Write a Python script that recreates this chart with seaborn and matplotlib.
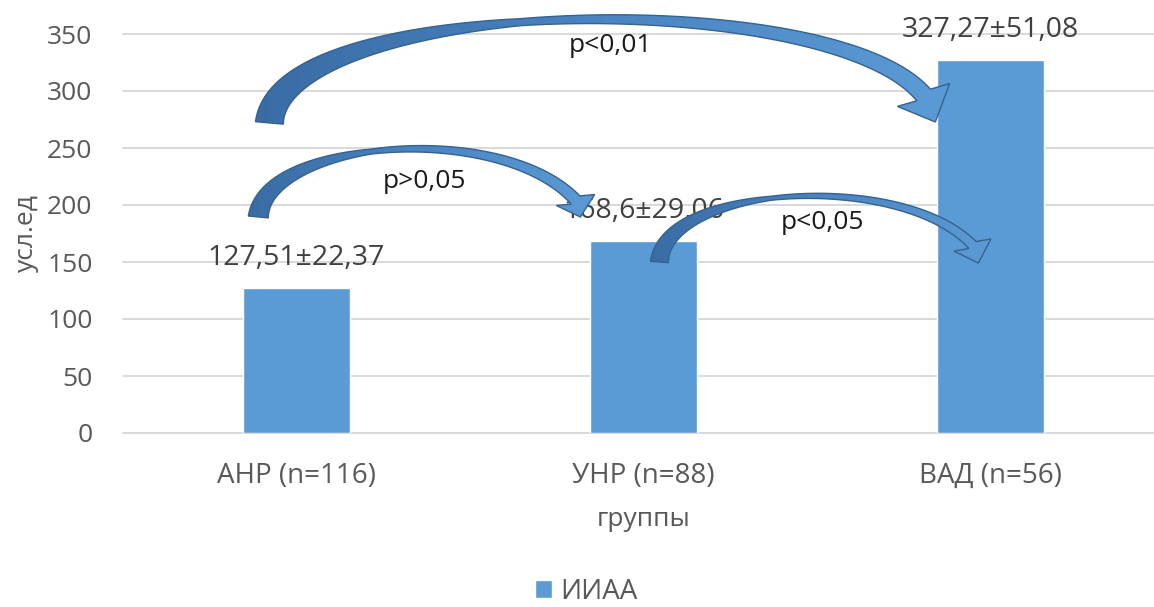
import numpy as np
import matplotlib
matplotlib.use("Agg")
import matplotlib.pyplot as plt
import seaborn as sns
from matplotlib.patches import Polygon
from matplotlib.colors import LinearSegmentedColormap

# ---- data -------------------------------------------------------------
groups = ["АНР (n=116)", "УНР (n=88)", "ВАД (n=56)"]
means = [127.51, 168.6, 327.27]
sds = [22.37, 29.06, 51.08]
series_name = "ИИАА"
y_ticks = [0, 50, 100, 150, 200, 250, 300, 350]
x_title = "группы"
y_title = "усл.ед"
p_labels = ["p<0,01", "p>0,05", "p<0,05"]

# ---- style ------------------------------------------------------------
sns.set_style("white")
plt.rcParams["font.family"] = ["Open Sans", "DejaVu Sans"]
BAR = "#5B9BD5"
GRID = "#D9D9D9"
TXT = "#595959"

W, H = 1154, 607
fig = plt.figure(figsize=(W / 100, H / 100), dpi=100)
ax = fig.add_axes([123 / W, 174 / H, (1164 - 123) / W, (573 - 174) / H])

sns.barplot(x=groups, y=means, color=BAR, width=0.31, saturation=1,
            ax=ax, label=series_name, zorder=2)

ax.set_xlim(-0.5, 2.5)
ax.set_ylim(0, 350)
ax.set_yticks(y_ticks)
ax.yaxis.grid(True, color=GRID, lw=1.4)
ax.set_axisbelow(True)
for gl in ax.get_ygridlines():
    gl.set_clip_on(False)
for s in ax.spines.values():
    s.set_visible(False)
ax.tick_params(axis="both", length=0, colors=TXT)
ax.tick_params(axis="y", pad=22, labelsize=19)
ax.tick_params(axis="x", pad=21, labelsize=20)
ax.set_xlabel(x_title, fontsize=19, color=TXT, labelpad=12)
ax.set_ylabel(y_title, fontsize=19, color=TXT, labelpad=6)


def fmt(v):
    return f"{v:g}".replace(".", ",")


for i, (m, s) in enumerate(zip(means, sds)):
    ax.annotate(f"{fmt(m)}±{fmt(s)}", (i, m), xytext=(0, 21.5),
                textcoords="offset points", ha="center", va="center",
                fontsize=20.5, color="#404040", zorder=3)

handles, labels = ax.get_legend_handles_labels()
if ax.get_legend() is not None:
    ax.get_legend().remove()
fig.legend(handles, labels, loc="center", bbox_to_anchor=(586 / W, 1 - 592 / H),
           frameon=False, fontsize=20, handlelength=0.6, handleheight=0.6,
           handletextpad=0.3, labelcolor=TXT, borderpad=0.1)

# ---- curved comparison arrows (overlay in pixel space) ----------------
ov = fig.add_axes([0, 0, 1, 1])
ov.set_xlim(0, W)
ov.set_ylim(0, H)
ov.axis("off")

# control points in data units (category index, value) and widths in px
arrow_specs = [
    dict(pts=[(-0.078, 272), (-0.046, 384), (1.539, 393), (1.807, 296.5)],
         tip=(1.841, 272.8), w=(28, 7, 18), head=57, label=(0.905, 340)),
    dict(pts=[(-0.110, 189.5), (-0.089, 257), (0.588, 274.6), (0.804, 204.4)],
         tip=(0.818, 189.5), w=(20, 5, 12), head=40, label=(0.369, 221)),
    dict(pts=[(1.046, 150), (1.063, 217.5), (1.741, 230.7), (1.948, 164.9)],
         tip=(1.965, 149.1), w=(18, 4, 10), head=39, label=(1.515, 185)),
]

grad = LinearSegmentedColormap.from_list("arr", ["#3A6CA4", "#4A84C2", "#5B9BD5"])


def arrow_polygon(spec):
    P = ax.transData.transform(np.array(spec["pts"], float))
    T = ax.transData.transform(np.array(spec["tip"], float))
    t = np.linspace(0, 1, 240)[:, None]
    pts = ((1 - t) ** 3) * P[0] + 3 * ((1 - t) ** 2) * t * P[1] \
        + 3 * (1 - t) * t ** 2 * P[2] + t ** 3 * P[3]
    d = (-3 * (1 - t) ** 2) * P[0] + (3 * (1 - t) ** 2 - 6 * (1 - t) * t) * P[1] \
        + (6 * (1 - t) * t - 3 * t ** 2) * P[2] + 3 * t ** 2 * P[3]
    d = d / np.linalg.norm(d, axis=1)[:, None]
    n = np.column_stack([-d[:, 1], d[:, 0]])
    w0, wm, w1 = spec["w"]
    w = np.interp(t.ravel(), [0, 0.45, 1], [w0, wm, w1])[:, None]
    left = pts + n * w / 2
    right = pts - n * w / 2
    B = pts[-1]
    dv = (T - B) / np.linalg.norm(T - B)
    nh = np.array([-dv[1], dv[0]])
    if np.dot(nh, n[-1]) < 0:
        nh = -nh
    hw = spec["head"] / 2
    head = np.array([B + nh * hw, T, B - nh * hw])
    return np.vstack([left, head, right[::-1]])


for spec, lab in zip(arrow_specs, p_labels):
    poly = arrow_polygon(spec)
    patch = Polygon(poly, closed=True, facecolor="none", edgecolor="#35628F",
                    lw=1.0, zorder=6)
    ov.add_patch(patch)
    x0, y0 = poly.min(axis=0)
    x1, y1 = poly.max(axis=0)
    im = ov.imshow(np.linspace(0, 1, 256)[None, :], cmap=grad, aspect="auto",
                   extent=(x0, x1, y0, y1), origin="lower", zorder=5,
                   interpolation="bilinear")
    im.set_clip_path(patch)
    lx, ly = ax.transData.transform(spec["label"])
    ov.text(lx, ly, lab, ha="center", va="center", fontsize=19,
            color="#1A1A1A", zorder=7)

ov.set_xlim(0, W)
ov.set_ylim(0, H)

fig.savefig("out.png", dpi=100)
